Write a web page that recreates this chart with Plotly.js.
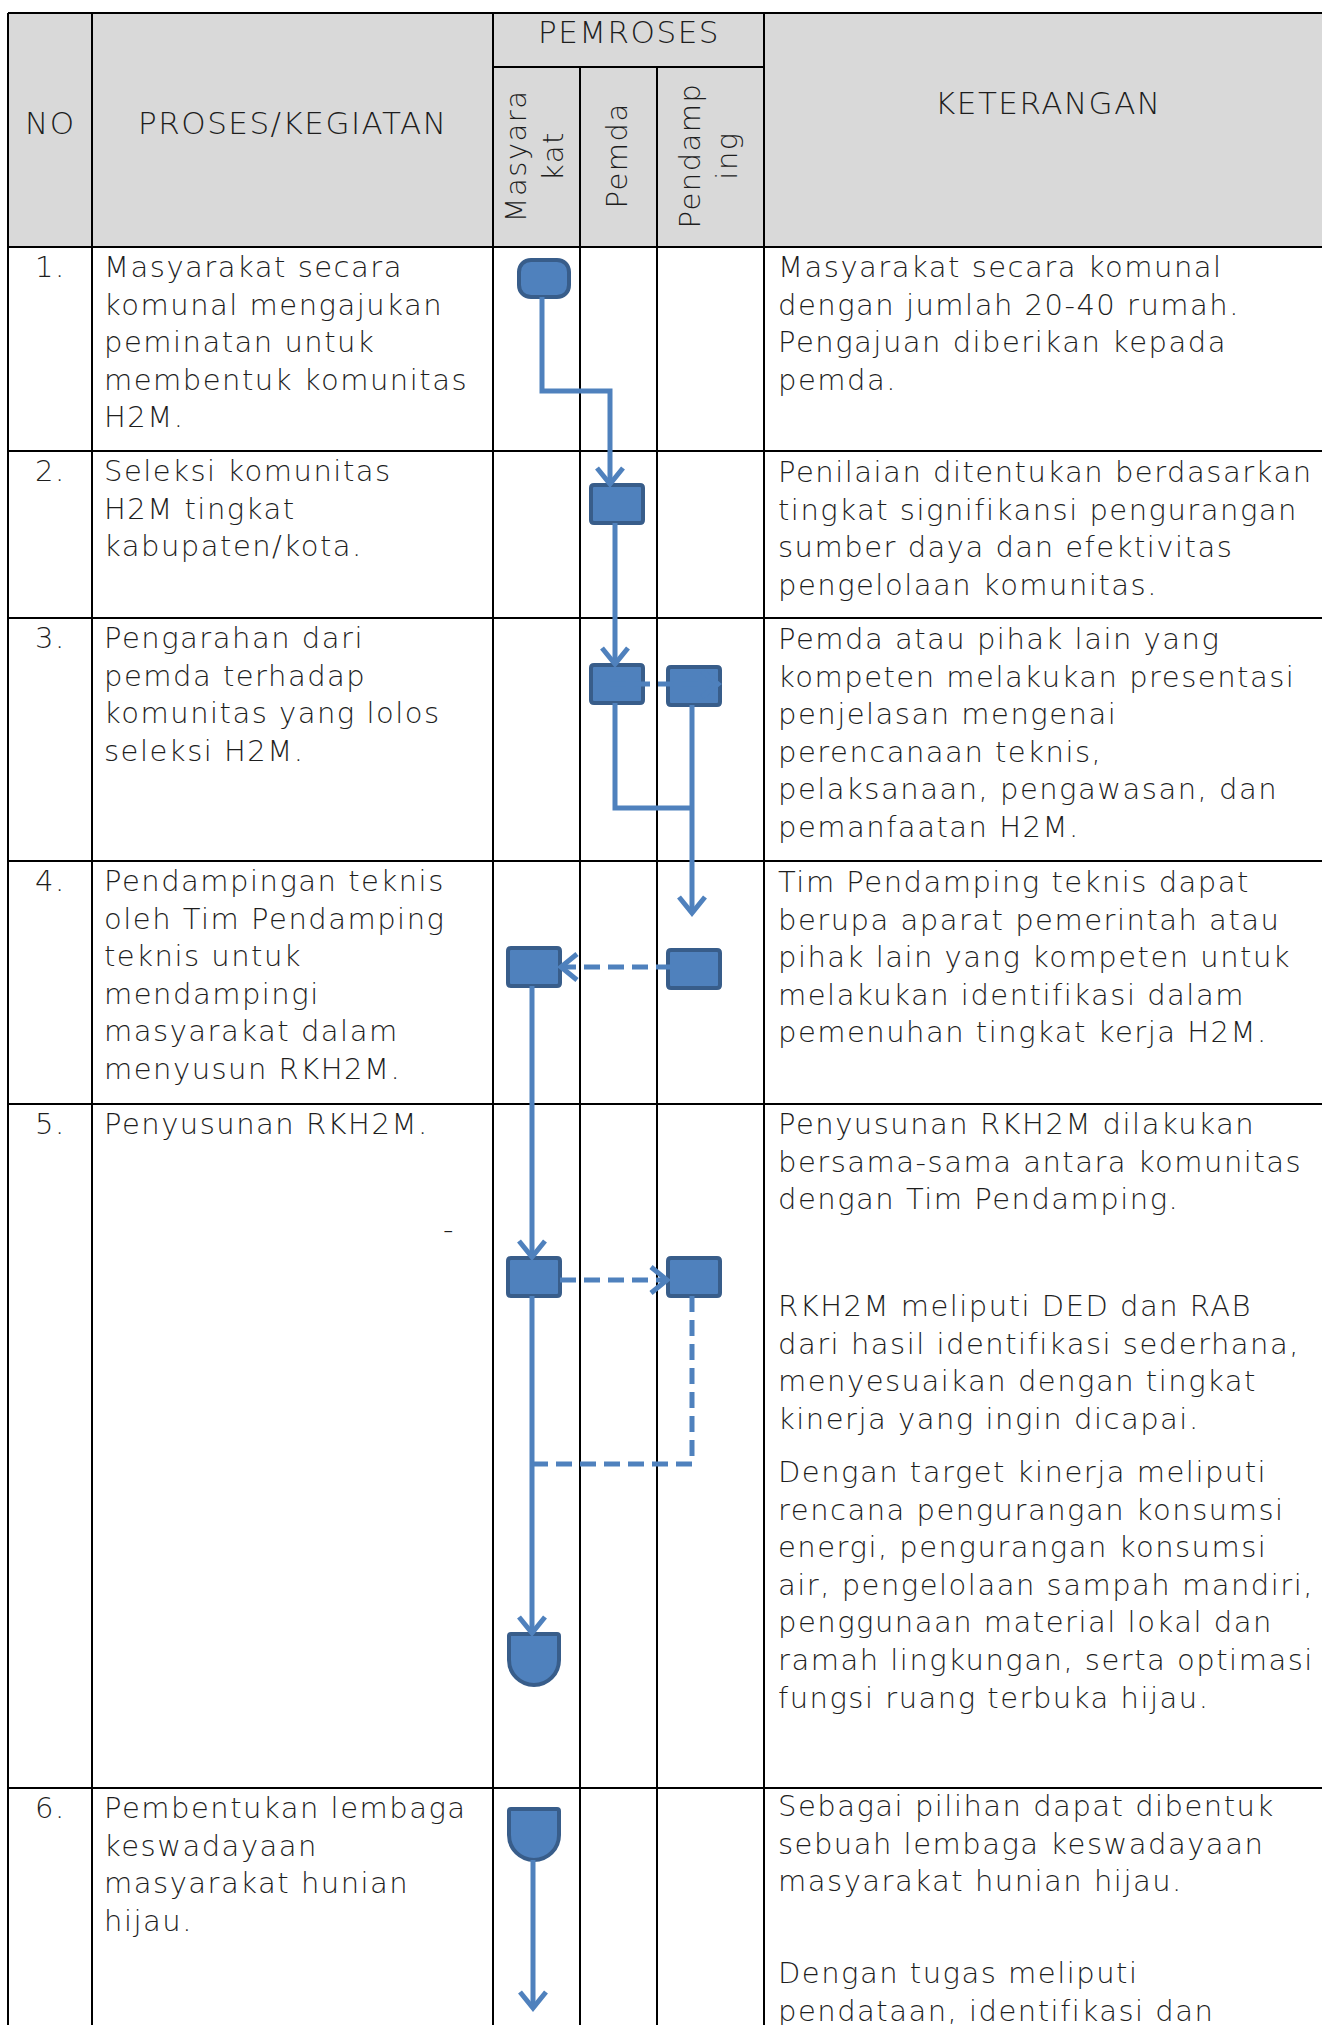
<!DOCTYPE html>
<html>
<head>
<meta charset="utf-8">
<script src="https://cdn.plot.ly/plotly-3.0.1.min.js"></script>
<style>
html,body{margin:0;padding:0;background:#fff;overflow:hidden;}
#chart{width:1322px;height:2025px;}
.annotation-text{letter-spacing:1.5px;}
</style>
</head>
<body>
<div id="chart"></div>
<script>
// ---------- DATA (text content of the table) ----------
const headerNo = "NO";
const headerProses = "PROSES/KEGIATAN";
const headerPemroses = "PEMROSES";
const headerKeterangan = "KETERANGAN";
const laneLabels = ["Masyara<br>kat", "Pemda", "Pendamp<br>ing"];

const rowNumbers = ["1.", "2.", "3.", "4.", "5.", "6."];

const processLines = [
  ["Masyarakat secara", "komunal mengajukan", "peminatan untuk", "membentuk komunitas", "H2M."],
  ["Seleksi komunitas", "H2M tingkat", "kabupaten/kota."],
  ["Pengarahan dari", "pemda terhadap", "komunitas yang lolos", "seleksi H2M."],
  ["Pendampingan teknis", "oleh Tim Pendamping", "teknis untuk", "mendampingi", "masyarakat dalam", "menyusun RKH2M."],
  ["Penyusunan RKH2M."],
  ["Pembentukan lembaga", "keswadayaan", "masyarakat hunian", "hijau."]
];

const ketRow1 = [["Masyarakat secara komunal", "dengan jumlah 20-40 rumah.", "Pengajuan diberikan kepada", "pemda."]];
const ketRow2 = [["Penilaian ditentukan berdasarkan", "tingkat signifikansi pengurangan", "sumber daya dan efektivitas", "pengelolaan komunitas."]];
const ketRow3 = [["Pemda atau pihak lain yang", "kompeten melakukan presentasi", "penjelasan mengenai", "perencanaan teknis,", "pelaksanaan, pengawasan, dan", "pemanfaatan H2M."]];
const ketRow4 = [["Tim Pendamping teknis dapat", "berupa aparat pemerintah atau", "pihak lain yang kompeten untuk", "melakukan identifikasi dalam", "pemenuhan tingkat kerja H2M."]];
const ketRow5 = [
  ["Penyusunan RKH2M dilakukan", "bersama-sama antara komunitas", "dengan Tim Pendamping."],
  ["RKH2M meliputi DED dan RAB", "dari hasil identifikasi sederhana,", "menyesuaikan dengan tingkat", "kinerja yang ingin dicapai."],
  ["Dengan target kinerja meliputi", "rencana pengurangan konsumsi", "energi, pengurangan konsumsi", "air, pengelolaan sampah mandiri,", "penggunaan material lokal dan", "ramah lingkungan, serta optimasi", "fungsi ruang terbuka hijau."]
];
const ketRow6 = [
  ["Sebagai pilihan dapat dibentuk", "sebuah lembaga keswadayaan", "masyarakat hunian hijau."],
  ["Dengan tugas meliputi", "pendataan, identifikasi dan"]
];
const ketParagraphs = [ketRow1, ketRow2, ketRow3, ketRow4, ketRow5, ketRow6];
const strayMark = "-";

// ---------- LAYOUT (geometry, in pixel-equivalent axis units) ----------
const W = 1322, H = 2025;
const colX = [8, 92, 493, 580, 657, 764];      // vertical borders
const tableTop = 13, subHeaderY = 67, headerBottom = 247;
const rowTops = [247, 451, 618, 861, 1104, 1788];
const LH = 37.6;                                 // line height
const ketParaStartsY = [[267], [472], [639], [882], [1124, 1306, 1472], [1806, 1973]];

const FONT = "DejaVu Sans ExtraLight, DejaVu Sans, sans-serif";
const FS = 29, HFS = 31;
const TXT = "#1e1e1e";
const BLUE = "#4F81BD", DARK = "#385D8A";

const shapes = [];
const annotations = [];

// header background
shapes.push({type: "rect", xref: "x", yref: "y", x0: colX[0], x1: W + 10, y0: tableTop, y1: headerBottom,
  fillcolor: "#D9D9D9", line: {width: 0}, layer: "below"});

function hline(y, x0, x1) {
  shapes.push({type: "line", xref: "x", yref: "y", x0: x0, x1: x1, y0: y, y1: y, line: {color: "#000", width: 2}});
}
function vline(x, y0, y1) {
  shapes.push({type: "line", xref: "x", yref: "y", x0: x, x1: x, y0: y0, y1: y1, line: {color: "#000", width: 2}});
}
hline(tableTop, colX[0], W + 10);
hline(subHeaderY, colX[2], colX[5]);
rowTops.forEach(y => hline(y, colX[0], W + 10));
[0, 1, 2, 5].forEach(i => vline(colX[i], tableTop, H + 10));
[3, 4].forEach(i => vline(colX[i], subHeaderY, H + 10));

function txt(text, x, y, opts, size) {
  annotations.push(Object.assign({
    text: text, x: x, y: y, xref: "x", yref: "y", showarrow: false,
    xanchor: "left", yanchor: "middle",
    font: {family: FONT, size: size || FS, color: TXT, weight: 200}
  }, opts || {}));
}

// header texts
txt(headerNo, (colX[0] + colX[1]) / 2, 123, {xanchor: "center"}, HFS);
txt(headerProses, (colX[1] + colX[2]) / 2, 123, {xanchor: "center"}, HFS);
txt(headerPemroses, (colX[2] + colX[5]) / 2, 32, {xanchor: "center"}, HFS);
txt(headerKeterangan, 1048, 103, {xanchor: "center"}, HFS);
const laneCenters = [(colX[2] + colX[3]) / 2, (colX[3] + colX[4]) / 2, (colX[4] + colX[5]) / 2];
laneLabels.forEach((lab, i) => {
  txt(lab, laneCenters[i] - 2, 156, {xanchor: "center", textangle: -90, align: "center"}, 29);
});

// body rows
rowNumbers.forEach((n, r) => {
  const y0 = rowTops[r] + 20;
  txt(n, (colX[0] + colX[1]) / 2, y0, {xanchor: "center"});
  processLines[r].forEach((line, k) => txt(line, 102, y0 + k * LH));
  ketParagraphs[r].forEach((para, p) => {
    const ps = ketParaStartsY[r][p];
    para.forEach((line, k) => txt(line, 776, ps + k * LH));
  });
});
txt(strayMark, 449, 1229, {xanchor: "center"});

// ---------- FLOW DIAGRAM ----------
const flowNodes = [
  {type: "term", cx: 544, y0: 260, y1: 297, hw: 25},
  {type: "box", cx: 617, y0: 485, y1: 523, hw: 26},
  {type: "box", cx: 617, y0: 665, y1: 703, hw: 26},
  {type: "box", cx: 694, y0: 667, y1: 705, hw: 26},
  {type: "box", cx: 694, y0: 950, y1: 988, hw: 26},
  {type: "box", cx: 534, y0: 948, y1: 986, hw: 26},
  {type: "box", cx: 534, y0: 1258, y1: 1296, hw: 26},
  {type: "box", cx: 694, y0: 1258, y1: 1296, hw: 26},
  {type: "dshape", cx: 534, y0: 1634, y1: 1685, hw: 25},
  {type: "dshape", cx: 534, y0: 1809, y1: 1860, hw: 25}
];
const flowLinks = [
  {pts: [[542, 297], [542, 391], [610, 391], [610, 484]], dash: false, arrow: "down"},
  {pts: [[615, 523], [615, 664]], dash: false, arrow: "down"},
  {pts: [[615, 703], [615, 808], [692, 808]], dash: false, arrow: null},
  {pts: [[692, 705], [692, 913]], dash: false, arrow: "down"},
  {pts: [[672, 967], [561, 967]], dash: true, arrow: "left"},
  {pts: [[532, 986], [532, 1257]], dash: false, arrow: "down"},
  {pts: [[560, 1280], [667, 1280]], dash: true, arrow: "right"},
  {pts: [[692, 1296], [692, 1464], [533, 1464]], dash: true, arrow: null},
  {pts: [[532, 1296], [532, 1633]], dash: false, arrow: "down"},
  {pts: [[533, 1860], [533, 2008]], dash: false, arrow: "down"},
  {pts: [[610, 684], [718, 684]], dash: true, arrow: "right"}
];

function nodePath(n) {
  const x0 = n.cx - n.hw, x1 = n.cx + n.hw, y0 = n.y0, y1 = n.y1;
  if (n.type === "box") {
    const r = 3;
    return `M ${x0 + r},${y0} L ${x1 - r},${y0} Q ${x1},${y0} ${x1},${y0 + r} L ${x1},${y1 - r} Q ${x1},${y1} ${x1 - r},${y1} L ${x0 + r},${y1} Q ${x0},${y1} ${x0},${y1 - r} L ${x0},${y0 + r} Q ${x0},${y0} ${x0 + r},${y0} Z`;
  }
  if (n.type === "term") {
    const r = 12, k = 7;
    return `M ${x0 + r},${y0} L ${x1 - r},${y0} C ${x1 - r + k},${y0} ${x1},${y0 + 5} ${x1},${y0 + r} L ${x1},${y1 - r} C ${x1},${y1 - 5} ${x1 - r + k},${y1} ${x1 - r},${y1} L ${x0 + r},${y1} C ${x0 + r - k},${y1} ${x0},${y1 - 5} ${x0},${y1 - r} L ${x0},${y0 + r} C ${x0},${y0 + 5} ${x0 + r - k},${y0} ${x0 + r},${y0} Z`;
  }
  const r = n.hw, ym = y1 - r, k = 0.5523 * r;
  return `M ${x0 + 2},${y0} L ${x1 - 2},${y0} Q ${x1},${y0} ${x1},${y0 + 2} L ${x1},${ym} C ${x1},${ym + k} ${n.cx + k},${y1} ${n.cx},${y1} C ${n.cx - k},${y1} ${x0},${ym + k} ${x0},${ym} L ${x0},${y0 + 2} Q ${x0},${y0} ${x0 + 2},${y0} Z`;
}

flowNodes.forEach(n => {
  shapes.push({type: "path", xref: "x", yref: "y", path: nodePath(n),
    fillcolor: BLUE, line: {color: DARK, width: 4}});
});

function chevron(x, y, dir) {
  const a = 13, b = 16;
  if (dir === "down") return `M ${x - a},${y - b} L ${x},${y} L ${x + a},${y - b}`;
  if (dir === "left") return `M ${x + b},${y - a} L ${x},${y} L ${x + b},${y + a}`;
  return `M ${x - b},${y - a} L ${x},${y} L ${x - b},${y + a}`;
}

flowLinks.forEach(l => {
  const d = l.pts.map((p, i) => (i ? "L " : "M ") + p[0] + "," + p[1]).join(" ");
  shapes.push({type: "path", xref: "x", yref: "y", path: d, fillcolor: "rgba(0,0,0,0)",
    line: {color: BLUE, width: 5, dash: l.dash ? "16px,8px" : "solid"}});
  if (l.arrow) {
    const e = l.pts[l.pts.length - 1];
    shapes.push({type: "path", xref: "x", yref: "y", path: chevron(e[0], e[1], l.arrow),
      fillcolor: "rgba(0,0,0,0)", line: {color: BLUE, width: 5}});
  }
});

const layout = {
  width: W, height: H,
  margin: {l: 0, r: 0, t: 0, b: 0, pad: 0},
  paper_bgcolor: "#fff", plot_bgcolor: "#fff",
  xaxis: {range: [0, W], visible: false, fixedrange: true},
  yaxis: {range: [H, 0], visible: false, fixedrange: true},
  showlegend: false,
  shapes: shapes,
  annotations: annotations
};

Plotly.newPlot("chart", [{x: [0, W], y: [0, H], mode: "markers", marker: {opacity: 0}, hoverinfo: "skip", showlegend: false}],
  layout, {displayModeBar: false, staticPlot: true});
</script>
</body>
</html>
